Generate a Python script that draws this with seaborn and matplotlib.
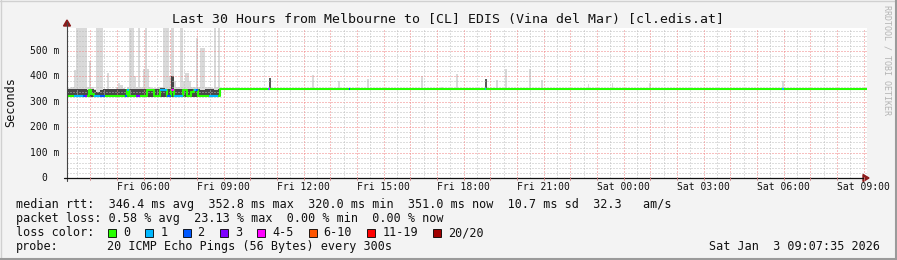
import numpy as np
import pandas as pd
import matplotlib
matplotlib.use("Agg")
import matplotlib.pyplot as plt
from matplotlib.lines import Line2D
from matplotlib.patches import Rectangle, Polygon
import seaborn as sns

sns.set_style("white")
plt.rcParams['font.family'] = ['DejaVu Sans Mono', 'DejaVu Sans']

# ---------------- data ----------------
T0 = 3 + 7 / 60 + 35 / 3600          # Fri 03:07:35 (hours since Fri 00:00)
T1 = T0 + 30                          # Sat 09:07:35
STEP = 5 / 60                         # 5 minute steps

noisy_median = [
    322, 322, 322, 322, 322, 322, 322, 322, 322, 322,
    346, 330, 322, 322, 322, 322, 322, 322, 322, 322,
    322, 322, 322, 322, 322, 322, 322, 346, 322, 322,
    322, 322, 322, 322, 322, 322, 346, 346, 346, 322,
    322, 322, 346, 346, 346, 322, 322, 346, 322, 322,
    322, 322, 346, 346, 322, 322, 340, 346, 346, 322,
    322, 322, 322, 322, 322, 322, 322, 322, 322,
]
noisy_loss = [
    0, 0, 0, 1, 1, 1, 1, 2, 3, 0,
    0, 0, 1, 1, 1, 2, 2, 0, 0, 0,
    0, 0, 0, 0, 0, 0, 2, 1, 0, 0,
    0, 3, 3, 0, 0, 0, 0, 0, 0, 0,
    0, 0, 1, 1, 1, 2, 2, 4, 1, 1,
    1, 1, 0, 0, 0, 0, 0, 1, 2, 0,
    0, 0, 0, 0, 1, 1, 1, 1, 0,
]
noisy_smoke_max = [
    355, 355, 360, 425, 590, 590, 590, 590, 590, 360,
    460, 360, 350, 590, 590, 590, 350, 350, 415, 350,
    350, 350, 360, 375, 365, 355, 350, 360, 590, 590,
    400, 360, 590, 360, 430, 590, 430, 360, 355, 355,
    355, 360, 360, 590, 590, 590, 400, 590, 380, 360,
    360, 590, 380, 415, 415, 380, 360, 360, 550, 360,
    510, 510, 360, 360, 360, 355, 590, 360, 590,
]
noisy_smoke_dark = [
    352, 350, 350, 352, 352, 350, 350, 352, 350, 345,
    352, 352, 345, 340, 340, 345, 352, 350, 352, 352,
    352, 350, 352, 352, 352, 352, 350, 352, 350, 352,
    352, 350, 352, 350, 352, 352, 350, 352, 352, 352,
    352, 352, 355, 355, 352, 352, 352, 400, 352, 350,
    352, 352, 350, 352, 352, 352, 352, 352, 350, 350,
    345, 345, 352, 352, 352, 352, 345, 345, 352,
]
SMOKE_FLOOR = 317

steady_value = 351

spike_times = [10.70, 12.31, 13.29, 14.37, 16.40, 17.15, 17.71, 18.80, 19.21,
               19.55, 20.45, 20.90, 22.65, 23.55, 24.95, 29.95]
spike_tops = [392, 405, 380, 390, 400, 360, 410, 390, 385,
              430, 430, 385, 370, 375, 375, 382]
spike_dark = [True, False, False, False, False, False, False, True, False,
              False, False, False, False, False, False, False]

mark_times = [10.66, 10.70, 13.70, 18.80, 29.95]
mark_loss = [1, 4, 2, 1, 1]

loss_labels = ["0", "1", "2", "3", "4-5", "6-10", "11-19", "20/20"]
loss_colors = ["#26ff00", "#00b8ff", "#0059ff", "#7e00ff", "#ff00ff",
               "#ff5500", "#ff0000", "#a10000"]

xtick_hours = [6, 9, 12, 15, 18, 21, 24, 27, 30, 33]
xtick_labels = ["Fri 06:00", "Fri 09:00", "Fri 12:00", "Fri 15:00", "Fri 18:00",
                "Fri 21:00", "Sat 00:00", "Sat 03:00", "Sat 06:00", "Sat 09:00"]
ytick_values = [0, 100, 200, 300, 400, 500]
ytick_labels = ["0", "100 m", "200 m", "300 m", "400 m", "500 m"]

title = "Last 30 Hours from Melbourne to [CL] EDIS (Vina del Mar) [cl.edis.at]"
stats_line1 = "median rtt:  346.4 ms avg  352.8 ms max  320.0 ms min  351.0 ms now  10.7 ms sd  32.3   am/s"
stats_line2 = "packet loss: 0.58 % avg  23.13 % max  0.00 % min  0.00 % now"
probe_label = "probe:"
probe_text = "20 ICMP Echo Pings (56 Bytes) every 300s"
stamp = "Sat Jan  3 09:07:35 2026"
watermark = "RRDTOOL / TOBI OETIKER"

# ---------------- figure ----------------
W, H = 897, 260
fig = plt.figure(figsize=(W / 100, H / 100), dpi=100)
fig.patch.set_facecolor("#f3f3f3")


def fx(x):
    return x / W


def fy(y):
    return 1 - y / H


YMAX = 592
ax_left, ax_right, ax_bottom = 67, 867, 178
ax_top = ax_bottom - YMAX * 0.254
ax = fig.add_axes([fx(ax_left), fy(ax_bottom), (ax_right - ax_left) / W,
                   (ax_bottom - ax_top) / H])
ax.set_facecolor("white")
ax.set_xlim(T0, T1)
ax.set_ylim(0, YMAX)
for s in ax.spines.values():
    s.set_visible(False)

n = len(noisy_median)
t_noisy = T0 + np.arange(n) * STEP
t_steady0 = T0 + n * STEP

# smoke
ax.bar(t_noisy, np.array(noisy_smoke_max) - SMOKE_FLOOR, bottom=SMOKE_FLOOR,
       width=STEP, align="edge", color="#d9d9d9", linewidth=0, zorder=1)
ax.bar(t_noisy, np.array(noisy_smoke_dark) - SMOKE_FLOOR, bottom=SMOKE_FLOOR,
       width=STEP, align="edge", color="#474747", linewidth=0, zorder=1.2)
sp_t = np.array(spike_times)
sp_top = np.array(spike_tops)
sp_dark = np.array(spike_dark)
ax.bar(sp_t[~sp_dark], sp_top[~sp_dark] - 349, bottom=349, width=STEP * 0.8,
       align="edge", color="#dadada", linewidth=0, zorder=1)
ax.bar(sp_t[sp_dark], sp_top[sp_dark] - 349, bottom=349, width=STEP * 0.8,
       align="edge", color="#5a5a5a", linewidth=0, zorder=1.2)

# grid (dotted, like rrdtool)
gkw = dict(lw=0.72, linestyle=(0, (1, 2)), zorder=2)
for v in range(20, 600, 20):
    if v > YMAX:
        break
    if v % 100 == 0:
        ax.axhline(v, color="#f08080", **gkw)
    else:
        ax.axhline(v, color="#bdbdbd", **gkw)
hh = np.arange(3.5, 33.01, 0.5)
for h in hh:
    if h <= T0 or h >= T1:
        continue
    if abs(h - round(h)) < 1e-6:
        ax.axvline(h, color="#f08080", **gkw)
    else:
        ax.axvline(h, color="#bdbdbd", **gkw)

# median line (seaborn)
med_t = list(t_noisy) + [t_steady0, T1]
med_v = list(noisy_median) + [steady_value, steady_value]
df = pd.DataFrame({"t": med_t, "rtt": med_v})
sns.lineplot(data=df, x="t", y="rtt", ax=ax, color=loss_colors[0], lw=1.5,
             drawstyle="steps-post", zorder=3, legend=False)
# loss colouring
for t, v, l in zip(t_noisy, noisy_median, noisy_loss):
    if l > 0:
        ax.hlines(v, t, t + STEP, color=loss_colors[l], lw=1.5, zorder=3.5)
for t, l in zip(mark_times, mark_loss):
    ax.hlines(steady_value, t, t + STEP * 0.6, color=loss_colors[l], lw=1.5, zorder=3.5)

ax.set_xlabel("")
ax.set_ylabel("")
ax.set_xticks([])
ax.set_yticks([])

# axes lines and arrows
fig.add_artist(Line2D([fx(ax_left), fx(ax_left)], [fy(ax_bottom + 3), fy(22)],
                      color="#444444", lw=0.8))
fig.add_artist(Line2D([fx(ax_left - 3), fx(864)], [fy(ax_bottom), fy(ax_bottom)],
                      color="#111111", lw=0.9))
fig.add_artist(Polygon([[fx(63.5), fy(26)], [fx(70.5), fy(26)], [fx(67), fy(20)]],
                       closed=True, color="#8b1a1a", transform=fig.transFigure))
fig.add_artist(Polygon([[fx(863), fy(174.5)], [fx(863), fy(181.5)], [fx(869), fy(178)]],
                       closed=True, color="#8b1a1a", transform=fig.transFigure))
# small ticks on x axis
for h in range(4, 34):
    x = ax_left + (h - T0) * 800 / 30
    fig.add_artist(Line2D([fx(x), fx(x)], [fy(ax_bottom - 1), fy(ax_bottom + 2)],
                          color="#d08080", lw=0.6))

# tick labels
tkw = dict(fontsize=7, color="#111111")
for h, lab in zip(xtick_hours, xtick_labels):
    x = ax_left + (h - T0) * 800 / 30
    fig.text(fx(x), fy(187.5), lab, ha="center", va="center", **tkw)
for v, lab in zip(ytick_values, ytick_labels):
    y = ax_bottom - v * 0.254
    xr = 59.5 if v > 0 else 47
    fig.text(fx(xr), fy(y), lab, ha="right", va="center", **tkw)
fig.text(fx(11), fy(102), "Seconds", rotation=90, ha="center", va="center",
         fontsize=8.5, color="#111111")

# title
fig.text(fx(448), fy(19.5), title, ha="center", va="center", fontsize=9.5,
         color="#111111")

# legend lines
lkw = dict(fontsize=8.5, color="#111111", ha="left", va="center")
fig.text(fx(16), fy(204.5), stats_line1, **lkw)
fig.text(fx(16), fy(218.5), stats_line2, **lkw)
fig.text(fx(16), fy(232.5), "loss color:", **lkw)
bx = 108.0
for lab, col in zip(loss_labels, loss_colors):
    fig.add_artist(Rectangle((fx(bx), fy(236.5)), 8 / W, 8 / H, transform=fig.transFigure,
                             facecolor=col, edgecolor="#000000", lw=0.6))
    fig.text(fx(bx + 15), fy(232.5), lab, **lkw)
    bx += (len(lab) + 4.25) * 7.1
fig.text(fx(16), fy(246.5), probe_label, **lkw)
fig.text(fx(107), fy(246.5), probe_text, **lkw)
fig.text(fx(880), fy(246.5), stamp, fontsize=8.5, color="#111111", ha="right", va="center")

# watermark
fig.text(fx(887), fy(60), watermark, rotation=270, ha="center", va="center",
         fontsize=6, color="#b4b4b4")

# frame
fig.add_artist(Line2D([0, 1], [fy(0.5), fy(0.5)], color="#d0d0d0", lw=1.0))
fig.add_artist(Line2D([fx(0.5), fx(0.5)], [0, 1], color="#d0d0d0", lw=1.0))
fig.add_artist(Line2D([0, 1], [fy(259), fy(259)], color="#9a9a9a", lw=1.5))
fig.add_artist(Line2D([fx(896), fx(896)], [0, 1], color="#9a9a9a", lw=1.5))

fig.savefig("out.png", dpi=100, facecolor=fig.get_facecolor())
